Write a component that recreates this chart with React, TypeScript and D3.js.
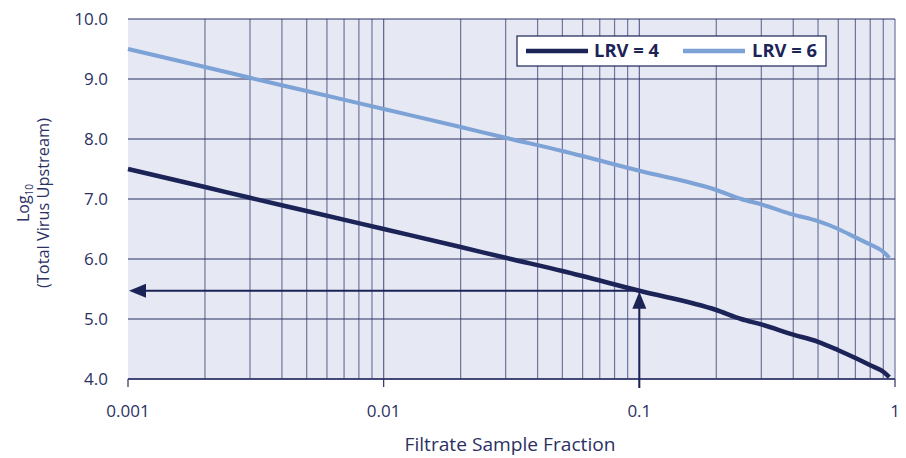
import React from "react";
import * as d3 from "d3";

const fractions = [0.001, 0.002, 0.003, 0.005, 0.01, 0.02, 0.03, 0.05, 0.1, 0.2, 0.25, 0.3, 0.4, 0.5, 0.6, 0.7, 0.8, 0.9, 0.95];
const lrv4 = [7.5, 7.2, 7.02, 6.8, 6.5, 6.2, 6.02, 5.8, 5.47, 5.15, 5.0, 4.91, 4.74, 4.62, 4.48, 4.35, 4.23, 4.12, 4.03];
const lrv6 = [9.5, 9.2, 9.02, 8.8, 8.5, 8.2, 8.02, 7.8, 7.47, 7.15, 7.0, 6.91, 6.74, 6.63, 6.5, 6.36, 6.24, 6.12, 6.02];
const yTicks = [4, 5, 6, 7, 8, 9, 10];
const xTickValues = [0.001, 0.01, 0.1, 1];
const xTickLabels = ["0.001", "0.01", "0.1", "1"];
const seriesNames = ["LRV = 4", "LRV = 6"];
const arrowFraction = 0.1;
const arrowValue = 5.47;

const W = 906;
const H = 458;
const left = 128;
const right = 895;
const top = 19;
const bottom = 379;

const C4 = "#1b2357";
const C6 = "#7ca2d6";
const BG = "#e6e8f4";
const TEXT = "#2b3163";
const FONT = "'Open Sans', 'DejaVu Sans', sans-serif";

export default function App() {
  const x = d3.scaleLog().domain([0.001, 1]).range([left, right]);
  const y = d3.scaleLinear().domain([4, 10]).range([bottom, top]);

  const minor: number[] = [];
  [0.001, 0.01, 0.1].forEach((d) => {
    for (let k = 2; k <= 9; k++) minor.push(d * k);
  });
  const majors = [0.01, 0.1];

  const line = d3
    .line<number>()
    .x((_, i) => x(fractions[i]))
    .y((d) => y(d))
    .curve(d3.curveMonotoneX);

  const ax = x(arrowFraction);
  const ay = y(arrowValue);

  return (
    <svg width={W} height={H} style={{ position: "absolute", left: 0, top: 0, background: "#fff" }} fontFamily={FONT}>
      <rect x={left} y={top} width={right - left} height={bottom - top} fill={BG} />
      {minor.map((d, i) => (
        <line key={"m" + i} x1={x(d)} x2={x(d)} y1={top} y2={bottom} stroke="#6f759c" strokeWidth={1.2} />
      ))}
      {majors.map((d, i) => (
        <line key={"M" + i} x1={x(d)} x2={x(d)} y1={top} y2={bottom} stroke="#5b6190" strokeWidth={1.2} />
      ))}
      <line x1={right} x2={right} y1={top} y2={bottom} stroke="#6f759c" strokeWidth={1.2} />
      {yTicks.map((t) => (
        <line key={"h" + t} x1={left} x2={right} y1={y(t)} y2={y(t)} stroke="#2b3163" strokeWidth={1.2} />
      ))}
      {/* bottom axis */}
      <line x1={left} x2={right} y1={bottom} y2={bottom} stroke="#2b3163" strokeWidth={1.5} />
      {xTickValues.map((t, i) => (
        <g key={"xt" + i}>
          <line x1={x(t)} x2={x(t)} y1={bottom} y2={bottom + 8} stroke="#2b3163" strokeWidth={1.2} />
          <text x={x(t)} y={bottom + 38} textAnchor="middle" fontSize={17} fill={TEXT}>
            {xTickLabels[i]}
          </text>
        </g>
      ))}
      {yTicks.map((t) => (
        <text key={"yl" + t} x={108} y={y(t) + 6} textAnchor="end" fontSize={17} fill={TEXT}>
          {t.toFixed(1)}
        </text>
      ))}
      <text x={510} y={451} textAnchor="middle" fontSize={18} fill={TEXT} textLength={211} lengthAdjust="spacingAndGlyphs">
        Filtrate Sample Fraction
      </text>
      <g transform={`translate(29, 203) rotate(-90)`}>
        <text x={0} y={0} textAnchor="middle" fontSize={16} fill={TEXT}>
          Log
          <tspan fontSize={10} dy={4}>10</tspan>
        </text>
        <text x={0} y={20} textAnchor="middle" fontSize={16} fill={TEXT} textLength={170} lengthAdjust="spacingAndGlyphs">
          (Total Virus Upstream)
        </text>
      </g>
      {/* series */}
      <path d={line(lrv6) || ""} fill="none" stroke={C6} strokeWidth={4} />
      <path d={line(lrv4) || ""} fill="none" stroke={C4} strokeWidth={4.5} />
      {/* arrows */}
      <line x1={ax} x2={left + 14} y1={ay} y2={ay} stroke={C4} strokeWidth={2} />
      <path d={`M${left + 1},${ay} L${left + 18},${ay - 7} L${left + 18},${ay + 7} Z`} fill={C4} />
      <line x1={ax} x2={ax} y1={bottom + 9} y2={ay + 14} stroke={C4} strokeWidth={2} />
      <path d={`M${ax},${ay + 1} L${ax - 7},${ay + 18} L${ax + 7},${ay + 18} Z`} fill={C4} />
      {/* legend */}
      <rect x={517} y={36} width={309} height={30} fill="#fff" stroke={C4} strokeWidth={1.2} />
      <line x1={526} x2={588} y1={51} y2={51} stroke={C4} strokeWidth={4.5} />
      <text x={594} y={57} fontSize={17} fontWeight="bold" fill={C4} textLength={65} lengthAdjust="spacingAndGlyphs">
        {seriesNames[0]}
      </text>
      <line x1={683} x2={745} y1={51} y2={51} stroke={C6} strokeWidth={4.5} />
      <text x={752} y={57} fontSize={17} fontWeight="bold" fill={C4} textLength={65} lengthAdjust="spacingAndGlyphs">
        {seriesNames[1]}
      </text>
    </svg>
  );
}
